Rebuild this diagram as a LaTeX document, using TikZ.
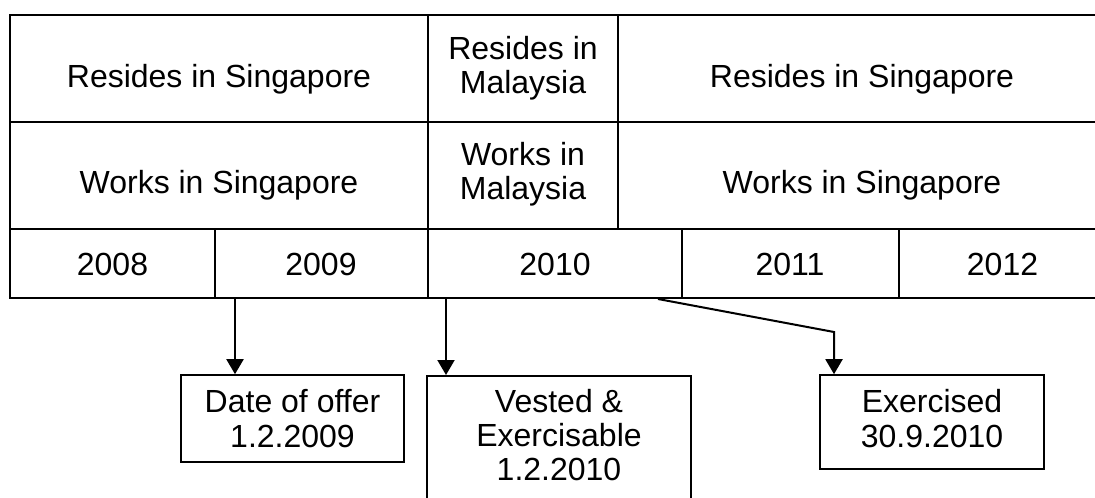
\documentclass[tikz,border=0pt]{standalone}
\usepackage{fontspec}
\setmainfont{Liberation Sans}
\usetikzlibrary{arrows.meta}
\tikzset{
  grid/.style={line width=1pt},
  txt/.style={font=\fontsize{16}{17.2}\selectfont, inner sep=0pt, align=center},
  box/.style={draw, line width=0.8pt, inner sep=0pt, font=\fontsize{16}{17.2}\selectfont, align=center},
  arr/.style={line width=1pt, -{Triangle[width=8.5pt,length=7.5pt]}}
}
\begin{document}
\begin{tikzpicture}[x=0.5pt,y=-0.5pt]
\useasboundingbox (0,0) rectangle (1095,497);
\clip (0,0) rectangle (1095,497);
% table grid
\draw[grid] (1110,15) -- (10,15) -- (10,298) -- (1110,298);
\draw[grid] (10,122) -- (1110,122);
\draw[grid] (10,229) -- (1110,229);
\draw[grid] (428,15) -- (428,298);
\draw[grid] (618,15) -- (618,229);
\draw[grid] (215,229) -- (215,298);
\draw[grid] (682,229) -- (682,298);
\draw[grid] (899,229) -- (899,298);
% texts
\node[txt, anchor=base] (r1) at (219,88) {Resides in Singapore};
\node[txt, anchor=base] (r3) at (862,88) {Resides in Singapore};
\node[txt] (r2) at (523,68.5) {Resides in\\Malaysia};
\node[txt, anchor=base] (w1) at (219,193) {Works in Singapore};
\node[txt, anchor=base] (w3) at (862,193) {Works in Singapore};
\node[txt] (w2) at (523,174.5) {Works in\\Malaysia};
\node[txt, anchor=base] (y8) at (112.5,275) {2008};
\node[txt, anchor=base] (y9) at (321,275) {2009};
\node[txt, anchor=base] (y10) at (555,275) {2010};
\node[txt, anchor=base] (y11) at (790,275) {2011};
\node[txt, anchor=base] (y12) at (1002.5,275) {2012};
% boxes
\node[box, minimum width=111.5pt, minimum height=43.5pt] (b1) at (292.5,418.5) {Date of offer\\1.2.2009};
\node[box, minimum width=132pt, minimum height=70pt, anchor=north] (b2) at (559,375) {};
\node[txt] (b2t) at (559,435) {Vested \&\\Exercisable\\1.2.2010};
\node[box, minimum width=112pt, minimum height=47pt] (b3) at (932,422) {};
\node[txt] (b3t) at (932,418.5) {Exercised\\30.9.2010};
% connectors
\coordinate (s1) at (235,298);
\coordinate (s2) at (446,298);
\coordinate (s3) at (658,299);
\coordinate (k3) at (834,332);
\draw[arr] (s1) -- (s1 |- b1.north);
\draw[arr] (s2) -- (s2 |- b2.north);
\draw[arr] (s3) -- (k3) -- (k3 |- b3.north);
\end{tikzpicture}
\end{document}
